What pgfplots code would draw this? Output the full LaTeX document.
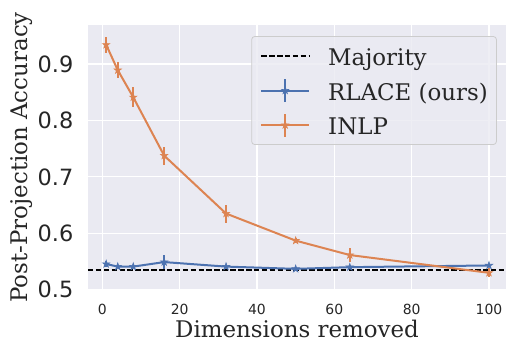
\documentclass[border=0pt]{standalone}
\usepackage{fontspec}
\setmainfont{DejaVu Serif}
\newfontfamily\ticksans{DejaVu Sans}
\usepackage{pgfplots}
\pgfplotsset{compat=1.18}
\definecolor{bgc}{HTML}{EAEAF2}
\definecolor{sblue}{HTML}{4C72B0}
\definecolor{sorange}{HTML}{DD8452}
\definecolor{txt}{HTML}{262626}
\definecolor{legedge}{HTML}{CCCCCC}
\pgfdeclareplotmark{fstar}{%
  \pgfpathmoveto{\pgfpointpolar{90}{\pgfplotmarksize}}%
  \pgfpathlineto{\pgfpointpolar{126}{0.382*\pgfplotmarksize}}%
  \pgfpathlineto{\pgfpointpolar{162}{\pgfplotmarksize}}%
  \pgfpathlineto{\pgfpointpolar{198}{0.382*\pgfplotmarksize}}%
  \pgfpathlineto{\pgfpointpolar{234}{\pgfplotmarksize}}%
  \pgfpathlineto{\pgfpointpolar{270}{0.382*\pgfplotmarksize}}%
  \pgfpathlineto{\pgfpointpolar{306}{\pgfplotmarksize}}%
  \pgfpathlineto{\pgfpointpolar{342}{0.382*\pgfplotmarksize}}%
  \pgfpathlineto{\pgfpointpolar{18}{\pgfplotmarksize}}%
  \pgfpathlineto{\pgfpointpolar{54}{0.382*\pgfplotmarksize}}%
  \pgfpathclose
  \pgfusepathqfillstroke}
\pgfplotsset{
  majleg/.style={legend image code/.code={\draw[##1] (0bp,0bp) -- (48bp,0bp);}},
  errleg/.style={legend image code/.code={
    \draw[##1, mark=none] (0bp,0bp) -- (48bp,0bp);
    \draw[##1, mark=none] (24bp,-11.5bp) -- (24bp,11.5bp);
    \draw[##1, only marks] plot coordinates {(24bp,0bp)};}},
}
\begin{document}
\begin{tikzpicture}
\useasboundingbox (-88bp,-51.2bp) rectangle (418bp,289.8bp);
\begin{axis}[at={(0,0)}, anchor=south west, scale only axis,
  width=418bp, height=264.8bp,
  xmin=-3.7, xmax=104.4, ymin=0.4999, ymax=0.969,
  axis background/.style={fill=bgc},
  axis line style={draw=none},
  major tick length=0pt,
  grid=major, major grid style={white, line width=1.3bp},
  xtick={0,20,40,60,80,100}, xticklabels={0,20,40,60,80,100},
  ytick={0.5,0.6,0.7,0.8,0.9}, yticklabels={0.5,0.6,0.7,0.8,0.9},
  xticklabel style={font=\ticksans\fontsize{14}{16}\selectfont, text=txt, inner sep=0pt, yshift=-14bp},
  yticklabel style={font=\ticksans\fontsize{22.5}{26}\selectfont, text=txt, inner sep=0pt, xshift=-14.5bp},
  xlabel={Dimensions removed}, ylabel={Post-Projection Accuracy},
  label style={font=\fontsize{23}{27}\selectfont, text=txt, inner sep=0pt},
  xlabel style={at={(axis description cs:0.5,0)}, anchor=base, yshift=-47.5bp},
  ylabel style={at={(axis description cs:-0.1459,0.5)}, anchor=base},
  legend cell align=left,
  legend style={at={(0.978,0.958)}, anchor=north east, fill=bgc, fill opacity=0.8, text opacity=1,
    draw=legedge, line width=0.8bp, rounded corners=3bp,
    font=\fontsize{23}{27}\selectfont, text=txt,
    inner xsep=8.5bp, inner ysep=6bp, row sep=7.5bp,
    nodes={inner sep=0pt, text height=23bp, text depth=4bp},
    /tikz/every odd column/.append style={column sep=18bp}},
]
\addplot[black, line width=1.8bp, dash pattern=on 5.5bp off 2.4bp, majleg]
  coordinates {(-3.7,0.535) (104.4,0.535)};
\addlegendentry{Majority}
\addplot[color=sblue, line width=2bp, mark=fstar, mark size=3.8bp,
  mark options={solid, line width=0.6bp}, errleg,
  error bars/.cd, y dir=both, y explicit, error mark=none,
  error bar style={line width=2bp, sblue, solid}]
  coordinates {
  (1,0.5456) +- (0,0.005)
  (4,0.541) +- (0,0.003)
  (8,0.541) +- (0,0.002)
  (16,0.549) +- (0,0.012)
  (32,0.541) +- (0,0.002)
  (50,0.537) +- (0,0.003)
  (64,0.540) +- (0,0.002)
  (100,0.543) +- (0,0.003)
  };
\addlegendentry{RLACE (ours)}
\addplot[color=sorange, line width=2bp, mark=fstar, mark size=3.8bp,
  mark options={solid, line width=0.6bp}, errleg,
  error bars/.cd, y dir=both, y explicit, error mark=none,
  error bar style={line width=2bp, sorange, solid}]
  coordinates {
  (1,0.934) +- (0,0.014)
  (4,0.889) +- (0,0.014)
  (8,0.841) +- (0,0.018)
  (16,0.7376) +- (0,0.016)
  (32,0.635) +- (0,0.016)
  (50,0.587) +- (0,0.004)
  (64,0.5615) +- (0,0.012)
  (100,0.530) +- (0,0.008)
  };
\addlegendentry{INLP}
\end{axis}
\end{tikzpicture}
\end{document}
